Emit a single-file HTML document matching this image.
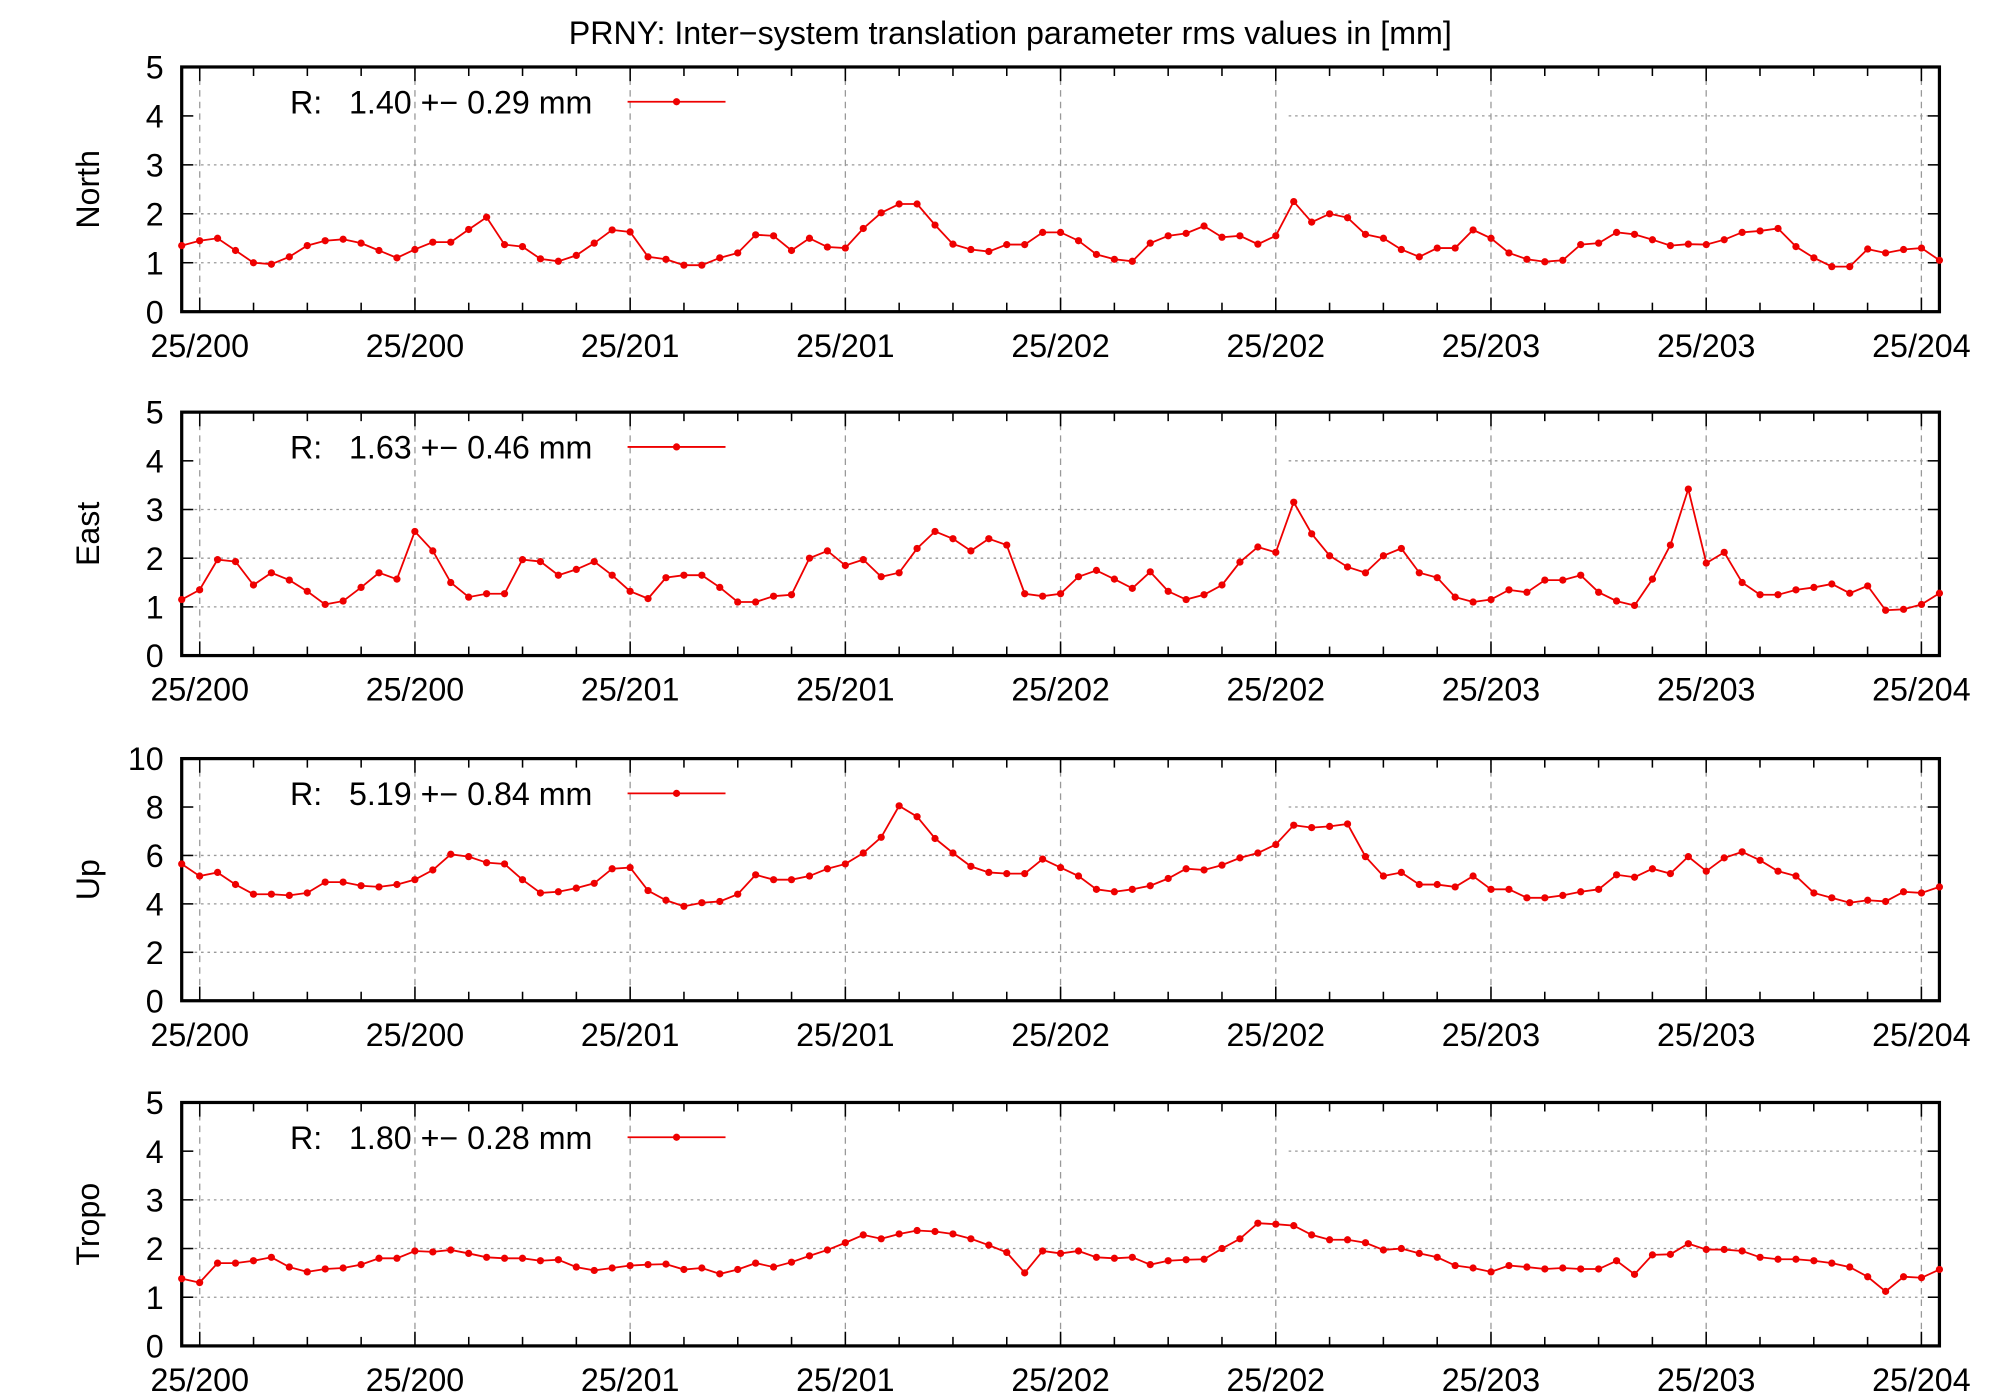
<!DOCTYPE html>
<html><head><meta charset="utf-8"><style>
html,body{margin:0;padding:0;background:#fff;}
svg{display:block;}
text{font-family:"Liberation Sans",sans-serif;fill:#000;white-space:pre;}
</style></head><body>
<svg id="chart" width="2000" height="1400" viewBox="0 0 1552 1087" preserveAspectRatio="none" xmlns="http://www.w3.org/2000/svg">
<text x="784" y="34" font-size="25" text-anchor="middle">PRNY: Inter−system translation parameter rms values in [mm]</text>
</svg>
<script>
const xTickLabels = ["25/200","25/200","25/201","25/201","25/202","25/202","25/203","25/203","25/204"];
const panelNames = ["North","East","Up","Tropo"];
const legendTexts = ["R:   1.40 +− 0.29 mm","R:   1.63 +− 0.46 mm","R:   5.19 +− 0.84 mm","R:   1.80 +− 0.28 mm"];
const yMaxes = [5,5,10,5];
const yStepVals = [1,1,2,1];
const northValues = [1.35,1.45,1.5,1.25,1.0,0.97,1.12,1.35,1.45,1.48,1.4,1.25,1.1,1.27,1.42,1.42,1.68,1.93,1.37,1.33,1.08,1.03,1.15,1.4,1.67,1.63,1.12,1.07,0.95,0.95,1.1,1.2,1.57,1.55,1.25,1.5,1.32,1.3,1.7,2.02,2.2,2.2,1.77,1.38,1.27,1.23,1.37,1.37,1.62,1.62,1.45,1.17,1.07,1.03,1.4,1.55,1.6,1.75,1.52,1.55,1.38,1.55,2.25,1.83,2.0,1.92,1.58,1.5,1.27,1.12,1.3,1.3,1.67,1.5,1.2,1.07,1.02,1.05,1.37,1.4,1.62,1.58,1.47,1.35,1.38,1.37,1.47,1.62,1.65,1.7,1.33,1.1,0.92,0.92,1.28,1.2,1.27,1.3,1.05];
const eastValues = [1.15,1.35,1.97,1.93,1.45,1.7,1.55,1.32,1.05,1.12,1.4,1.7,1.57,2.55,2.15,1.5,1.2,1.27,1.27,1.97,1.93,1.65,1.77,1.93,1.65,1.32,1.17,1.6,1.65,1.65,1.4,1.1,1.1,1.22,1.25,2.0,2.15,1.85,1.97,1.62,1.7,2.2,2.55,2.4,2.15,2.4,2.27,1.27,1.22,1.27,1.62,1.75,1.57,1.38,1.72,1.32,1.15,1.25,1.45,1.92,2.23,2.12,3.15,2.5,2.05,1.82,1.7,2.05,2.2,1.7,1.6,1.2,1.1,1.15,1.35,1.3,1.55,1.55,1.65,1.3,1.12,1.03,1.57,2.27,3.42,1.9,2.12,1.5,1.25,1.25,1.35,1.4,1.47,1.28,1.43,0.93,0.95,1.05,1.28];
const upValues = [5.65,5.15,5.3,4.8,4.4,4.4,4.35,4.45,4.9,4.9,4.75,4.7,4.8,5.0,5.4,6.05,5.95,5.7,5.65,5.0,4.45,4.5,4.65,4.85,5.45,5.5,4.55,4.15,3.9,4.05,4.1,4.4,5.2,5.0,5.0,5.15,5.45,5.65,6.1,6.75,8.05,7.6,6.7,6.1,5.55,5.3,5.25,5.25,5.85,5.5,5.15,4.6,4.5,4.6,4.75,5.05,5.45,5.4,5.6,5.9,6.1,6.45,7.25,7.15,7.2,7.3,5.95,5.15,5.3,4.8,4.8,4.7,5.15,4.6,4.6,4.25,4.25,4.35,4.5,4.6,5.2,5.1,5.45,5.25,5.95,5.35,5.9,6.15,5.8,5.35,5.15,4.45,4.25,4.05,4.15,4.1,4.5,4.45,4.7];
const tropoValues = [1.38,1.3,1.7,1.7,1.75,1.82,1.62,1.52,1.58,1.6,1.67,1.8,1.8,1.95,1.93,1.97,1.9,1.82,1.8,1.8,1.75,1.77,1.62,1.55,1.6,1.65,1.67,1.68,1.57,1.6,1.48,1.57,1.7,1.62,1.72,1.85,1.97,2.12,2.28,2.2,2.3,2.37,2.35,2.3,2.2,2.07,1.92,1.5,1.95,1.9,1.95,1.82,1.8,1.82,1.67,1.75,1.77,1.78,2.0,2.2,2.52,2.5,2.47,2.28,2.18,2.18,2.12,1.97,2.0,1.9,1.82,1.65,1.6,1.52,1.65,1.62,1.58,1.6,1.58,1.58,1.75,1.47,1.87,1.88,2.1,1.98,1.98,1.95,1.82,1.78,1.78,1.75,1.7,1.62,1.42,1.12,1.42,1.4,1.57];
const seriesList = [northValues,eastValues,upValues,tropoValues];

const NS="http://www.w3.org/2000/svg";
const svg=document.getElementById('chart');
const L=141,R=1505;
const tops=[52,320,589,856], bots=[242,509,777,1045];
function mk(tag,attrs,parent){const e=document.createElementNS(NS,tag);for(const k in attrs)e.setAttribute(k,attrs[k]);(parent||svg).appendChild(e);return e;}
function xScale(i,count){return L+i*(R-L)/(count-1);}
const xTick0=155,xTickStep=167;

for(let p=0;p<4;p++){
  const top=tops[p],bot=bots[p],ymax=yMaxes[p],step=yStepVals[p];
  const yScale=v=>bot-(v/ymax)*(bot-top);
  const g=mk('g',{});
  
  
  for(let v=step;v<ymax;v+=step){
    const y=yScale(v);
    const x0=(v===ymax-step)?1000:L;
    const gl=mk('line',{x1:x0,x2:R,y1:y,y2:y,stroke:'#999','stroke-width':1,'stroke-dasharray':'2,3'},g);
    
    
  }
  for(let k=0;k<xTickLabels.length;k++){
    const x=xTick0+k*xTickStep;
    const vl=mk('line',{x1:x,x2:x,y1:top,y2:bot,stroke:'#999','stroke-width':1,'stroke-dasharray':'5,4'},g);
    
    
  }
  for(let k=0;k<=33;k++){
    const x=xTick0+k*xTickStep/4;
    if(x>R)break;
    const len=(k%4===0)?11:7;
    mk('line',{x1:x,x2:x,y1:bot,y2:bot-len,stroke:'#000','stroke-width':1.2},g);
    mk('line',{x1:x,x2:x,y1:top,y2:top+len,stroke:'#000','stroke-width':1.2},g);
  }
  for(let v=0;v<=ymax;v+=step){
    const y=yScale(v);
    mk('line',{x1:L,x2:L+9,y1:y,y2:y,stroke:'#000','stroke-width':1.2},g);
    mk('line',{x1:R,x2:R-9,y1:y,y2:y,stroke:'#000','stroke-width':1.2},g);
    const t=mk('text',{x:L-14,y:y+9,'font-size':25,'text-anchor':'end'},g);
    t.textContent=String(v);
    
    
  }
  for(let k=0;k<xTickLabels.length;k++){
    const x=xTick0+k*xTickStep;
    const t=mk('text',{x:x,y:bot+35,'font-size':25,'text-anchor':'middle'},g);
    t.textContent=xTickLabels[k];
    
    
  }
  const fr=mk('rect',{x:L,y:top,width:R-L,height:bot-top,fill:'none',stroke:'#000','stroke-width':2.5},g);
  
  
  const cy=(top+bot)/2;
  const yt=mk('text',{x:0,y:0,'font-size':25,'text-anchor':'middle',transform:`translate(77,${cy}) rotate(-90)`},g);
  yt.textContent=panelNames[p];
  
  
  const vals=seriesList[p];
  const pts=vals.map((v,i)=>xScale(i,vals.length).toFixed(1)+','+yScale(v).toFixed(1)).join(' ');
  const pl=mk('polyline',{points:pts,fill:'none',stroke:'#e00','stroke-width':1.4},g);
  
  
  vals.forEach((v,i)=>{
    const c=mk('circle',{cx:xScale(i,vals.length),cy:yScale(v),r:2.8,fill:'#e00'},g);
    
    
  });
  const lt=mk('text',{x:225,y:top+36,'font-size':25},g);
  lt.textContent=legendTexts[p];
  
  
  const ll=mk('line',{x1:487,x2:563,y1:top+27,y2:top+27,stroke:'#e00','stroke-width':1.4},g);
  
  
  const lc=mk('circle',{cx:525,cy:top+27,r:2.8,fill:'#e00'},g);
  
  
}
</script>
</body></html>
